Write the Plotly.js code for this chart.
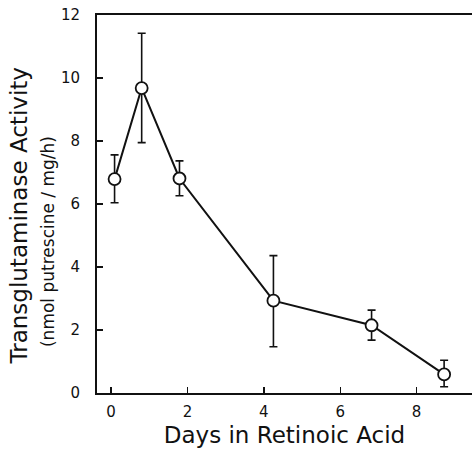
<!DOCTYPE html>
<html>
<head>
<meta charset="utf-8">
<script src="https://cdn.plot.ly/plotly-3.0.1.min.js"></script>
<style>html,body{margin:0;padding:0;background:#fff;}#chart{width:472px;height:452px;}</style>
</head>
<body>
<div id="chart"></div>
<script>
const days = [0.09, 0.80, 1.79, 4.25, 6.82, 8.72];
const activity = [6.79, 9.68, 6.81, 2.93, 2.15, 0.59];
const errUpper = [0.77, 1.74, 0.56, 1.43, 0.48, 0.45];
const errLower = [0.75, 1.73, 0.55, 1.46, 0.47, 0.39];
const xTicks = [0, 2, 4, 6, 8];
const yTicks = [0, 2, 4, 6, 8, 10, 12];

const font = "DejaVu Sans, Liberation Sans, sans-serif";

const trace = {
  x: days, y: activity, type: 'scatter', mode: 'lines+markers',
  line: {color: '#111', width: 2},
  marker: {symbol: 'circle', size: 12, color: '#fff', line: {color: '#111', width: 1.8}},
  error_y: {type: 'data', symmetric: false, array: errUpper, arrayminus: errLower,
            color: '#111', thickness: 1.6, width: 4},
  cliponaxis: false, hoverinfo: 'skip'
};

const layout = {
  width: 472, height: 452,
  margin: {l: 97, r: 0, t: 15, b: 59},
  paper_bgcolor: '#fff', plot_bgcolor: '#fff',
  showlegend: false,
  font: {family: font, color: '#111'},
  xaxis: {
    range: [-0.37, 9.45], tickvals: xTicks, ticktext: xTicks.map(String),
    ticks: 'inside', ticklen: 6, tickwidth: 1.5, tickcolor: '#111',
    showline: true, linecolor: '#111', linewidth: 2, mirror: true,
    showgrid: false, zeroline: false,
    tickfont: {size: 15, family: font, color: '#111'}, ticklabelstandoff: 4,
    title: {text: 'Days in Retinoic Acid', font: {size: 23, family: font, color: '#111'}, standoff: 7}
  },
  yaxis: {
    range: [0, 12], tickvals: yTicks, ticktext: yTicks.map(String),
    ticks: 'inside', ticklen: 6, tickwidth: 1.5, tickcolor: '#111',
    showline: true, linecolor: '#111', linewidth: 2,
    showgrid: false, zeroline: false,
    tickfont: {size: 15, family: font, color: '#111'}, ticklabelstandoff: 12
  },
  annotations: [
    {text: 'Transglutaminase Activity', xref: 'paper', yref: 'paper', x: -0.208, y: 0.467,
     xanchor: 'center', yanchor: 'middle', textangle: -90, showarrow: false,
     font: {size: 23, family: font, color: '#111'}},
    {text: '(nmol putrescine / mg/h)', xref: 'paper', yref: 'paper', x: -0.1307, y: 0.402,
     xanchor: 'center', yanchor: 'middle', textangle: -90, showarrow: false,
     font: {size: 17, family: font, color: '#111'}}
  ]
};

Plotly.newPlot('chart', [trace], layout, {displayModeBar: false, staticPlot: true});
</script>
</body>
</html>
